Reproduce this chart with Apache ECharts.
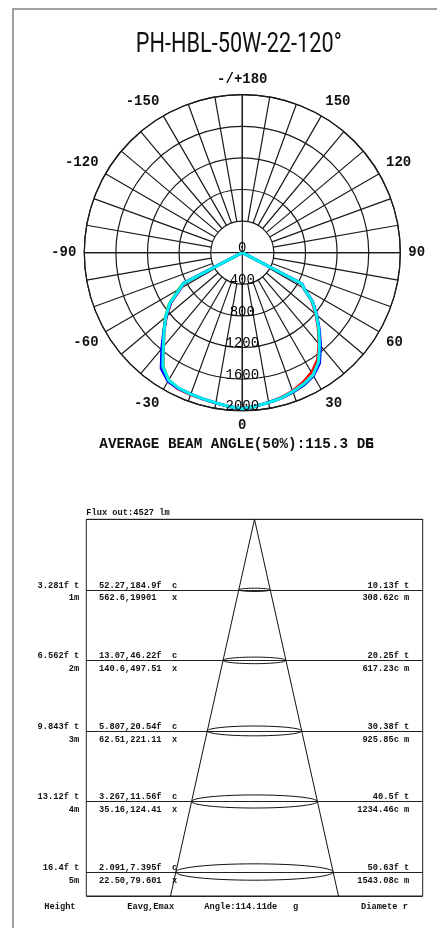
<!DOCTYPE html>
<html lang="en">
<head>
<meta charset="UTF-8">
<title>PH-HBL-50W-22-120°</title>
<style>
    html, body, #main {
        width: 100%;
        height: 100%;
        margin: 0;
        padding: 0;
        background: #fff;
    }
</style>
</head>
<body>
<div id="main"></div>
<script src="https://cdn.jsdelivr.net/npm/echarts@6.0.0/dist/echarts.min.js"></script>
<script>
// ---- polar diagram data (cd per C-plane, gamma from nadir) ----
var gamma   = [-65, -62.5, -60, -55, -50, -45, -40, -35, -30, -25, -20, -15, -10, -5, 0, 5, 10, 15, 20, 25, 30, 35, 40, 45, 50, 55, 60, 62.5, 65];
var redCd   = [0, 830, 890, 1100, 1250, 1395, 1545, 1745, 1880, 1910, 1915, 1920, 1935, 1955, 1975, 1950, 1920, 1895, 1860, 1810, 1750, 1655, 1505, 1355, 1210, 1070, 885, 835, 0];
var greenCd = [0, 845, 935, 1135, 1275, 1410, 1560, 1750, 1860, 1895, 1905, 1915, 1930, 1955, 1975, 1950, 1925, 1905, 1880, 1850, 1790, 1685, 1520, 1370, 1225, 1085, 900, 845, 0];
var blueCd  = [0, 835, 905, 1110, 1260, 1405, 1585, 1790, 1880, 1900, 1905, 1915, 1930, 1955, 1975, 1950, 1925, 1905, 1875, 1845, 1800, 1705, 1540, 1380, 1230, 1090, 905, 850, 0];
var cyanCd  = [0, 840, 910, 1120, 1265, 1400, 1555, 1755, 1865, 1895, 1905, 1915, 1930, 1955, 1975, 1950, 1925, 1905, 1870, 1835, 1790, 1685, 1520, 1370, 1225, 1085, 900, 845, 0];
var radialTicks = [0, 400, 800, 1200, 1600, 2000];

// ---- beam table data ----
var heightsM = [1, 2, 3, 4, 5];
var heightFt = ['3.281f t', '6.562f t', '9.843f t', '13.12f t', '16.4f t'];
var eavgFc   = ['52.27,184.9f  c', '13.07,46.22f  c', '5.807,20.54f  c', '3.267,11.56f  c', '2.091,7.395f  c'];
var eavgLx   = ['562.6,19901   x', '140.6,497.51  x', '62.51,221.11  x', '35.16,124.41  x', '22.50,79.601  x'];
var diamFt   = ['10.13f t', '20.25f t', '30.38f t', '40.5f t', '50.63f t'];
var diamCm   = [308.62, 617.23, 925.85, 1234.46, 1543.08];

var title = 'PH-HBL-50W-22-120°';
var beamText = 'AVERAGE BEAM ANGLE(50%):115.3 DE';
var fluxText = 'Flux out:4527 lm';
var footer = [['Height', 44.3], ['Eavg,Emax', 127.3], ['Angle:114.11de   g', 204.3], ['Diamete r', 361]];

var mono = '"Liberation Mono", "DejaVu Sans Mono", monospace';
var smallFont = 'bold 8.7px ' + mono;
var cx = 242.3, cy = 252.7, R = 158;
var yMax = 5.34;

// squeeze the title to the narrow width of the original
var ctx = document.createElement('canvas').getContext('2d');
ctx.font = '27px Roboto';
var titleScale = 206 / ctx.measureText(title).width;

var gridLine = { color: '#1a1a1a', width: 1.2 };

function curve(name, values, color, width) {
    return {
        name: name,
        type: 'line',
        coordinateSystem: 'polar',
        polarIndex: 0,
        symbol: 'none',
        silent: true,
        z: 3,
        lineStyle: { color: color, width: width },
        data: gamma.map(function (g, i) { return [values[i], g]; })
    };
}

function renderRow(params, api) {
    var i = params.dataIndex;
    var d = api.value(0);
    var h = api.value(1);
    var mid = api.coord([0, h]);
    var edge = api.coord([d / 2, h]);
    var rx = edge[0] - mid[0];
    var left = params.coordSys.x;
    var right = params.coordSys.x + params.coordSys.width;
    function txt(s, x, y, align) {
        return {
            type: 'text', x: x, y: y,
            style: { text: s, font: smallFont, fill: '#111', align: align, verticalAlign: 'middle' }
        };
    }
    return {
        type: 'group',
        children: [
            {
                type: 'ellipse',
                shape: { cx: mid[0], cy: mid[1], rx: rx, ry: rx * 0.104 },
                style: { fill: 'none', stroke: '#111', lineWidth: 1 }
            },
            txt(heightFt[i], left - 7, mid[1] - 4.3, 'right'),
            txt(heightsM[i] + 'm', left - 7, mid[1] + 8.4, 'right'),
            txt(eavgFc[i], left + 12.7, mid[1] - 4.3, 'left'),
            txt(eavgLx[i], left + 12.7, mid[1] + 8.4, 'left'),
            txt(diamFt[i], right - 13.4, mid[1] - 4.3, 'right'),
            txt(diamCm[i].toFixed(2) + 'c m', right - 13.4, mid[1] + 8.4, 'right')
        ]
    };
}

var coneHalf = diamCm[0] / heightsM[0] / 2 * yMax;

var graphics = [
    {
        type: 'polyline',
        shape: { points: [[13, 928], [13, 9], [437, 9]] },
        style: { stroke: '#a0a0a0', lineWidth: 2, fill: null }
    },
    {
        type: 'text', x: 238.8, y: 45.5, scaleX: titleScale,
        style: { text: title, font: '27px Roboto', fill: '#111', align: 'center', verticalAlign: 'middle' }
    },
    {
        type: 'text', x: 99.3, y: 444.2,
        style: { text: beamText, font: 'bold 14.3px ' + mono, fill: '#111', align: 'left', verticalAlign: 'middle' }
    },
    {
        type: 'text', x: 99.3 + 31 * 14.3 * 0.6, y: 444.2,
        style: { text: 'G', font: 'bold 14.3px ' + mono, fill: '#111', align: 'left', verticalAlign: 'middle' }
    },
    {
        type: 'text', x: 86.3, y: 512.7,
        style: { text: fluxText, font: smallFont, fill: '#111', align: 'left', verticalAlign: 'middle' }
    }
];
footer.forEach(function (f) {
    graphics.push({
        type: 'text', x: f[1], y: 906.7,
        style: { text: f[0], font: smallFont, fill: '#111', align: 'left', verticalAlign: 'middle' }
    });
});

var chart = echarts.init(document.getElementById('main'));
chart.setOption({
    animation: false,
    backgroundColor: '#fff',
    polar: [
        { center: [cx, cy], radius: R },
        { center: [cx, cy], radius: [R / 5, R] }
    ],
    angleAxis: [
        {
            polarIndex: 0, type: 'value', min: -180, max: 180, interval: 90,
            startAngle: 90, clockwise: false,
            axisLine: { lineStyle: gridLine },
            axisTick: { show: false },
            axisLabel: { show: false },
            splitLine: { show: true, lineStyle: gridLine }
        },
        {
            polarIndex: 1, type: 'value', min: -180, max: 180, interval: 10,
            startAngle: 90, clockwise: false,
            axisLine: { show: false },
            axisTick: { show: false },
            axisLabel: {
                show: true, margin: 8,
                fontFamily: mono, fontWeight: 'bold', fontSize: 14, color: '#111',
                formatter: function (v) {
                    if (v % 30 !== 0) return '';
                    if (Math.abs(v) === 180) return '-/+180';
                    return String(v);
                }
            },
            splitLine: { show: true, lineStyle: gridLine }
        }
    ],
    radiusAxis: [
        {
            polarIndex: 0, type: 'value', min: 0, max: 2000, interval: 400,
            axisLine: { show: false },
            axisTick: { show: false },
            axisLabel: { show: false },
            splitLine: { show: true, lineStyle: gridLine }
        },
        { polarIndex: 1, type: 'value', min: 0, max: 2000, show: false }
    ],
    grid: {
        left: 86.3, top: 519.3, right: 14.3, bottom: 32,
        show: true, borderColor: '#222', borderWidth: 1
    },
    xAxis: { type: 'value', min: -1650, max: 1650, show: false },
    yAxis: {
        type: 'value', min: 0, max: yMax, interval: 1, inverse: true,
        axisLine: { show: false },
        axisTick: { show: false },
        axisLabel: { show: false },
        splitLine: { show: true, lineStyle: { color: '#222', width: 1 } }
    },
    graphic: graphics,
    series: [
        curve('C0', redCd, '#ff0000', 2.5),
        curve('C90', greenCd, '#00c800', 2.5),
        curve('C180', blueCd, '#0000ff', 3),
        curve('C270', cyanCd, '#00f0f0', 3),
        {
            type: 'scatter',
            coordinateSystem: 'polar',
            polarIndex: 0,
            symbolSize: 0,
            silent: true,
            z: 5,
            itemStyle: { opacity: 1 },
            data: radialTicks.map(function (v) { return [v, 0]; }),
            label: {
                show: true, position: 'top', distance: -3,
                fontFamily: mono, fontSize: 14, color: '#000',
                textBorderWidth: 0,
                formatter: function (p) { return String(p.value[0]); }
            }
        },
        {
            type: 'line',
            xAxisIndex: 0, yAxisIndex: 0,
            symbol: 'none', silent: true, z: 4,
            lineStyle: { color: '#111', width: 1 },
            data: [[-coneHalf, yMax], [0, 0], [coneHalf, yMax]]
        },
        {
            type: 'custom',
            coordinateSystem: 'cartesian2d',
            silent: true, z: 3,
            data: heightsM.map(function (h, i) { return [diamCm[i], h]; }),
            renderItem: renderRow
        }
    ]
});
</script>
</body>
</html>
